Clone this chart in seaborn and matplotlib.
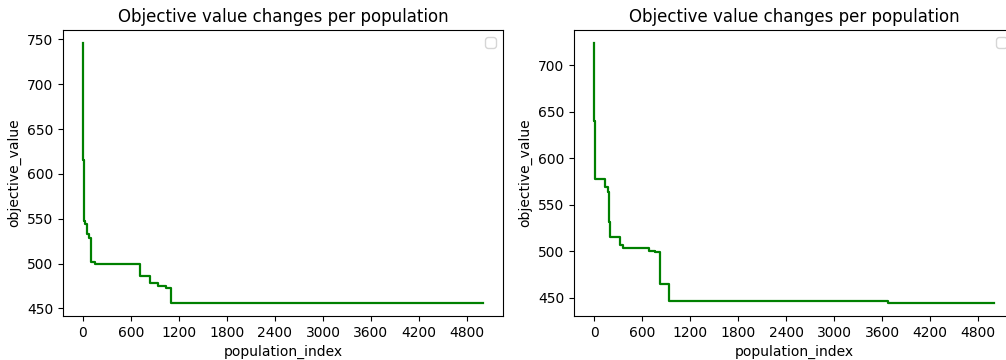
import pandas as pd
import seaborn as sns
import matplotlib.pyplot as plt

# change points of the best objective value (left run / right run)
left_idx = [0, 1, 2, 3, 5, 8, 12, 16, 30, 50, 75, 100, 150, 716, 833, 933, 1041, 1100, 5000]
left_val = [746, 705, 663, 640, 615, 590, 570, 548, 544, 533, 528, 502, 499, 486, 478, 475, 473, 456, 456]

right_idx = [0, 1, 2, 4, 8, 15, 137, 179, 192, 196, 325, 358, 692, 763, 825, 933, 3679, 5000]
right_val = [724, 700, 666, 640, 611, 578, 569, 564, 532, 516, 507, 504, 501, 499, 465, 446.5, 444.6, 444.6]

xticks = list(range(0, 5000, 600))

fig = plt.figure(figsize=(10.06, 3.6), dpi=100)
ax1 = fig.add_axes([0.0626, 0.1222, 0.4374, 0.7944])
ax2 = fig.add_axes([0.5706, 0.1222, 0.4374, 0.7944])

for ax, idx, val in [(ax1, left_idx, left_val), (ax2, right_idx, right_val)]:
    df = pd.DataFrame({"population_index": idx, "objective_value": val})
    sns.lineplot(data=df, x="population_index", y="objective_value", ax=ax,
                 color="green", linewidth=1.6, drawstyle="steps-post")
    ax.set_xticks(xticks)
    ax.set_title("Objective value changes per population")
    ax.legend(handles=[], loc="upper right")

fig.savefig("out.png", dpi=100)
